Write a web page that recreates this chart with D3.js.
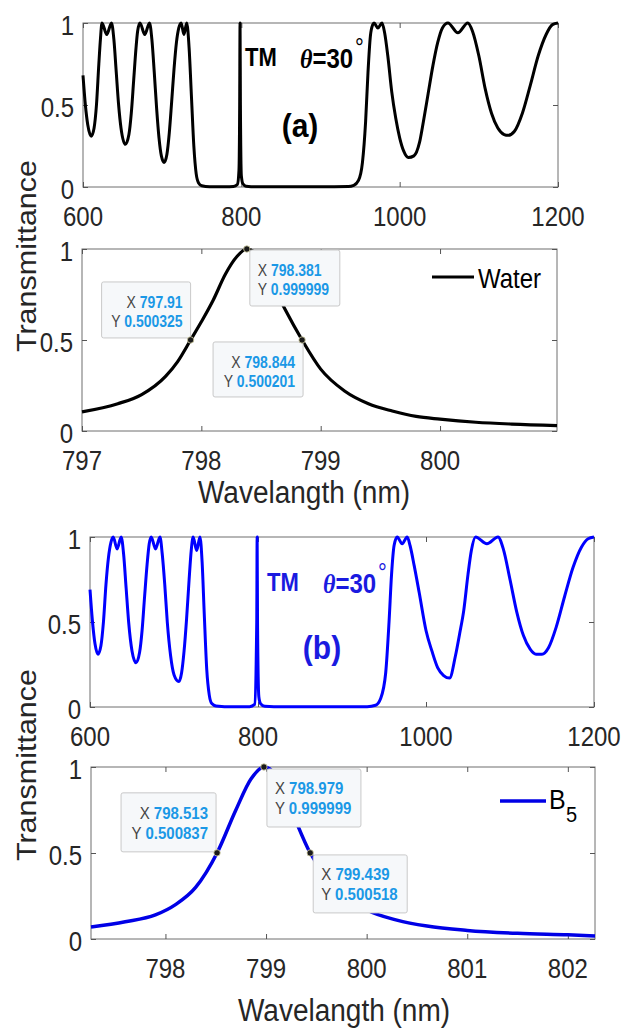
<!DOCTYPE html>
<html><head><meta charset="utf-8">
<script src="https://cdn.jsdelivr.net/npm/d3@7"></script>
<style>
html,body{margin:0;padding:0;background:#fff;}
svg{display:block;font-family:"Liberation Sans",Arial,sans-serif;}
</style></head>
<body><svg id="chart" width="627" height="1030"></svg>
<script>
// ---------- data ----------
const spectrumA_wl = [600,603,606,610.5,614,617,620,622,624,630,636,639,642,645,648,653.5,658,661,664,667,669,672,678,684,687,690,693,696,699,702.5,706,709,712,715,718,721,724,727.5,731,734,737,740,743,746,750,760,780,790,795,797,797.9,798.38,798.84,800,802,806,820,900,935,942,948,953,957,960,963,966,967.6,972.5,977.7,981,985,990,995,1000,1005,1011,1018,1025,1030,1036,1042,1048,1054,1061,1073.5,1086,1092,1100,1108,1116,1124,1132,1137,1145,1155,1165,1175,1185,1193,1200];
const spectrumA_T  = [0.68,0.5,0.38,0.31,0.36,0.5,0.75,0.9,1.0,0.93,1.0,0.9,0.7,0.5,0.36,0.26,0.32,0.45,0.65,0.85,0.95,1.0,0.93,1.0,0.9,0.7,0.48,0.3,0.19,0.15,0.2,0.33,0.52,0.72,0.88,0.97,1.0,0.93,1.0,0.85,0.55,0.25,0.08,0.025,0.008,0.002,0.001,0.003,0.015,0.1,0.5,1.0,0.5,0.07,0.02,0.005,0.001,0.001,0.003,0.01,0.04,0.15,0.4,0.7,0.92,0.99,1.0,0.97,1.0,0.94,0.8,0.58,0.42,0.3,0.22,0.18,0.19,0.27,0.4,0.57,0.74,0.88,0.97,1.0,0.94,1.0,0.95,0.8,0.6,0.45,0.36,0.32,0.315,0.34,0.45,0.62,0.8,0.93,0.99,1.0];

const spectrumB_wl = [600,603,606,609.5,613,616,619,622,625,627.6,632.3,637.1,640,643,646,650,654.8,659,662,665,668,670.5,672.9,678,683.3,686,689,692,696,700,705.7,709,712,715,718,720.5,722.8,727,730.9,733.5,736,739,742,745,750,770,790,796,798.5,798.98,799.44,801,803,808,830,930,940,946,952,956,959,962,965.7,971.6,977.6,981,986,992,1000,1007,1014,1021,1028,1035,1040,1045,1050,1054,1059,1072.5,1085.7,1092,1100,1108,1116,1124,1131,1138,1146,1155,1165,1175,1185,1193,1200];
const spectrumB_T  = [0.69,0.5,0.37,0.31,0.36,0.5,0.72,0.88,0.97,1.0,0.93,1.0,0.9,0.7,0.5,0.33,0.26,0.32,0.45,0.65,0.84,0.96,1.0,0.93,1.0,0.9,0.72,0.5,0.3,0.19,0.15,0.2,0.33,0.52,0.75,0.92,1.0,0.92,1.0,0.85,0.55,0.22,0.07,0.02,0.006,0.001,0.002,0.015,0.5,1.0,0.5,0.06,0.02,0.004,0.001,0.002,0.01,0.05,0.2,0.5,0.78,0.95,1.0,0.96,1.0,0.95,0.83,0.67,0.45,0.33,0.23,0.185,0.17,0.3,0.43,0.57,0.78,0.92,1.0,0.96,1.0,0.93,0.75,0.56,0.42,0.34,0.31,0.31,0.35,0.47,0.65,0.82,0.94,0.99,1.0];

const water_wl = [797.0,797.3,797.5,797.7,797.8,797.91,798.0,798.1,798.2,798.3,798.381,798.5,798.6,798.7,798.844,799.0,799.2,799.4,799.6,799.8,800.0,800.3,800.6,800.98];
const water_T  = [0.105,0.15,0.2,0.3,0.38,0.5,0.6,0.72,0.86,0.96,1.0,0.94,0.8,0.67,0.5,0.34,0.22,0.15,0.11,0.08,0.065,0.048,0.038,0.03];

const b5_wl = [797.26,797.6,797.9,798.1,798.3,798.513,798.7,798.85,798.979,799.1,799.25,799.439,799.6,799.8,800.0,800.3,800.6,801.0,801.5,802.0,802.27];
const b5_T  = [0.07,0.1,0.14,0.2,0.3,0.5,0.75,0.93,1.0,0.95,0.75,0.5,0.36,0.25,0.17,0.11,0.075,0.05,0.033,0.024,0.018];

const waterTips = [{x:797.91,y:0.500325,xs:"797.91",ys:"0.500325"},{x:798.381,y:0.999999,xs:"798.381",ys:"0.999999"},{x:798.844,y:0.500201,xs:"798.844",ys:"0.500201"}];
const b5Tips = [{x:798.513,y:0.500837,xs:"798.513",ys:"0.500837"},{x:798.979,y:0.999999,xs:"798.979",ys:"0.999999"},{x:799.439,y:0.500518,xs:"799.439",ys:"0.500518"}];

const ticksWide = [600,800,1000,1200];
const ticksWater = [797,798,799,800];
const ticksB5 = [798,799,800,801,802];
const ticksY = [0,0.5,1];

// ---------- drawing ----------
const svg = d3.select("#chart");
const FONT = '"Liberation Sans",Arial,sans-serif';
const AX = "#262626";
const S = 1.13; // vertical stretch of the original figure's text

function txt(g, x, y, str, o){
  o = o || {};
  const t = g.append("text")
    .attr("transform", `translate(${x},${y}) ${o.rot ? "rotate("+o.rot+") scale("+S+",1)" : "scale(1,"+S+")"}`)
    .attr("text-anchor", o.anchor || "start").attr("dominant-baseline","central")
    .attr("font-size", o.size || 24).attr("font-family", o.family || FONT)
    .attr("fill", o.fill || AX);
  if (o.bold) t.attr("font-weight","bold");
  if (str !== null) t.text(str);
  return t;
}

function panel(o){
  const x = d3.scaleLinear().domain(o.xd).range([o.l,o.r]);
  const y = d3.scaleLinear().domain([0,1]).range([o.b,o.t]);
  const g = svg.append("g");
  g.append("rect").attr("x",o.l).attr("y",o.t).attr("width",o.r-o.l).attr("height",o.b-o.t)
    .attr("fill","none").attr("stroke","#6e6e6e").attr("stroke-width",1);
  const tl = 5;
  const bx = g.append("g").attr("transform",`translate(0,${o.b})`)
    .call(d3.axisBottom(x).tickValues(o.xt).tickSize(-tl).tickFormat(""));
  const tx = g.append("g").attr("transform",`translate(0,${o.t})`)
    .call(d3.axisTop(x).tickValues(o.xt).tickSize(-tl).tickFormat(""));
  const ly = g.append("g").attr("transform",`translate(${o.l},0)`)
    .call(d3.axisLeft(y).tickValues(ticksY).tickSize(-tl).tickFormat(""));
  const ry = g.append("g").attr("transform",`translate(${o.r},0)`)
    .call(d3.axisRight(y).tickValues(ticksY).tickSize(-tl).tickFormat(""));
  [bx,tx,ly,ry].forEach(a=>{a.select(".domain").remove();a.selectAll("line").attr("stroke","#555");});
  o.xt.forEach(d=>txt(g, x(d), o.b+29, String(d), {anchor:"middle"}));
  ticksY.forEach(d=>txt(g, o.l-9, y(d)+2, String(d), {anchor:"end"}));
  const pts = o.wl.map((w,i)=>[w,o.T[i]]);
  g.append("path").datum(pts)
    .attr("d",d3.line().x(d=>x(d[0])).y(d=>y(d[1])).curve(d3.curveMonotoneX))
    .attr("fill","none").attr("stroke",o.color).attr("stroke-width",o.sw||3).attr("stroke-linejoin","round");
  return {x,y,g};
}

function titleText(g, tmX, thX, degX, cy, lblX, lblY, lbl, color){
  txt(g, tmX, cy, "TM", {size:22, bold:true, fill:color});
  const t = txt(g, thX, cy, null, {size:24, bold:true, fill:color});
  t.append("tspan").attr("font-family",'"Liberation Serif","Times New Roman",serif').attr("font-style","italic").text("θ");
  t.append("tspan").text("=30");
  txt(g, degX, cy-10, "°", {size:22, fill:color});
  txt(g, lblX, lblY, lbl, {size:30, bold:true, fill:color, anchor:"middle"});
}

function tips(P, data, boxes, fs){
  data.forEach((d,i)=>{
    const px = P.x(d.x), py = P.y(d.y), b = boxes[i];
    const bx = b.side==="left" ? px + b.dx - b.w : px + b.dx;
    const by = py + b.dy;
    P.g.append("rect").attr("x",bx).attr("y",by).attr("width",b.w).attr("height",b.h).attr("rx",2)
      .attr("fill","#f6f8fa").attr("stroke","#c9c9c9").attr("stroke-width",1);
    const anchor = b.side==="left" ? "end" : "start";
    const tx = b.side==="left" ? bx + b.w - 8 : bx + 8;
    [["X ",d.xs],["Y ",d.ys]].forEach((ln,k)=>{
      const t = txt(P.g, tx, by + b.l1 + k*b.lg, null, {size:fs, anchor:anchor});
      t.append("tspan").attr("fill","#454545").text(ln[0]);
      t.append("tspan").attr("fill","#1b98e6").attr("font-weight","bold").text(ln[1]);
    });
    P.g.append("circle").attr("cx",px).attr("cy",py).attr("r",3.2).attr("fill","#1a1a1a")
      .attr("stroke","#d8d4a8").attr("stroke-width",0.8);
  });
}

// Panel (a)
const PA = panel({l:83,r:558,t:23,b:187,xd:[600,1200],xt:ticksWide,wl:spectrumA_wl,T:spectrumA_T,color:"#000",sw:3});
titleText(PA.g,245,300,355,58,300,125,"(a)","#000");

// Panel water zoom
const PW = panel({l:82,r:557,t:249,b:431,xd:[797,800.98],xt:ticksWater,wl:water_wl,T:water_T,color:"#000",sw:3.2});
tips(PW, waterTips, [
  {side:"left",dx:0,dy:-58,w:89,h:56,l1:20,lg:19},
  {side:"right",dx:3,dy:1,w:90,h:56,l1:20,lg:19},
  {side:"left",dx:1,dy:2,w:90,h:55,l1:20,lg:19}
], 14);
const lgW = PW.g.append("g");
lgW.append("line").attr("x1",432).attr("x2",474).attr("y1",277).attr("y2",277).attr("stroke","#000").attr("stroke-width",3.2);
txt(lgW, 478, 278, "Water", {size:24, fill:"#000"});

// Panel (b)
const PB = panel({l:90,r:594,t:537,b:707,xd:[600,1200],xt:ticksWide,wl:spectrumB_wl,T:spectrumB_T,color:"#0000ff",sw:3});
titleText(PB.g,267,323,378,583,322,647,"(b)","#1a1ae0");

// Panel B5 zoom
const P5 = panel({l:91,r:595,t:767,b:939,xd:[797.26,802.27],xt:ticksB5,wl:b5_wl,T:b5_T,color:"#0000e6",sw:3.5});
tips(P5, b5Tips, [
  {side:"left",dx:-1,dy:-60,w:95,h:59,l1:20,lg:20},
  {side:"right",dx:3,dy:2,w:94,h:58,l1:19,lg:20},
  {side:"right",dx:3,dy:2,w:94,h:58,l1:19,lg:20}
], 15);
const lg5 = P5.g.append("g");
lg5.append("line").attr("x1",500).attr("x2",546).attr("y1",801).attr("y2",801).attr("stroke","#0000e6").attr("stroke-width",3.5);
txt(lg5, 549, 799, "B", {size:25, fill:"#000"});
txt(lg5, 566, 815, "5", {size:20, fill:"#000"});

// axis titles
[[27,256],[27,765]].forEach(p=>txt(svg, p[0], p[1], "Transmittance", {size:27, rot:-90, anchor:"middle"}));
[[304,492],[344,1010]].forEach(p=>txt(svg, p[0], p[1], "Wavelangth (nm)", {size:28, anchor:"middle"}));
</script></body></html>
